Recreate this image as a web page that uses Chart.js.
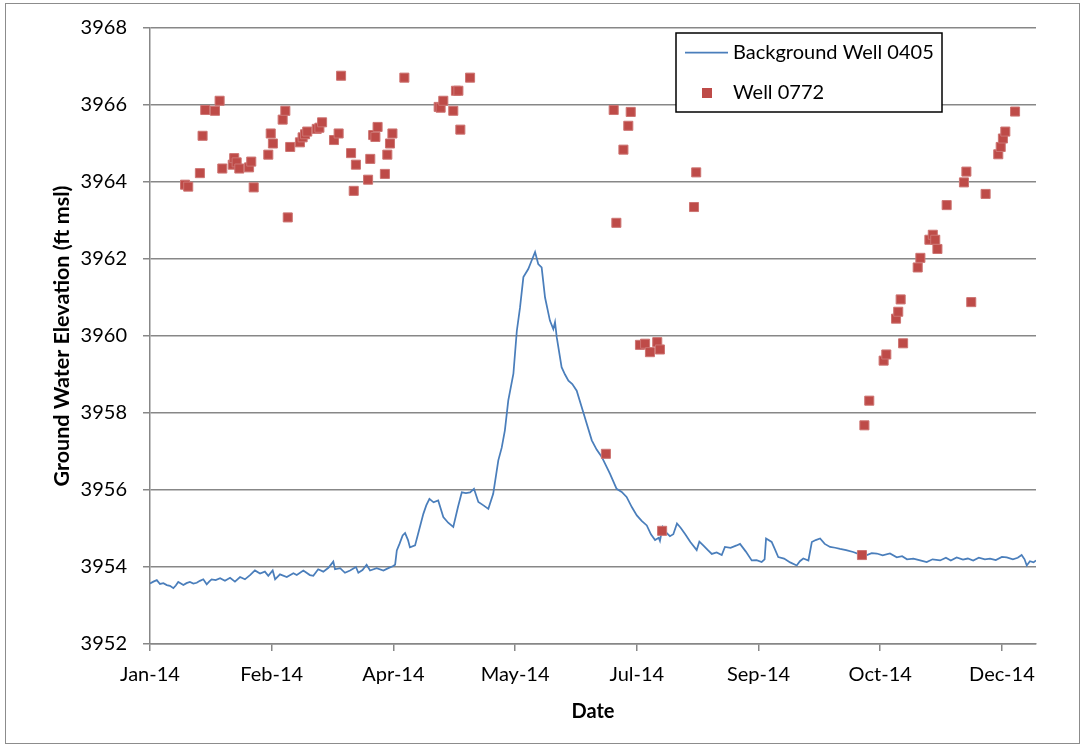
<!DOCTYPE html>
<html>
<head>
<meta charset="utf-8">
<title>Ground Water Elevation 2014</title>
<script src="https://cdn.jsdelivr.net/npm/chart.js@4.4.1/dist/chart.umd.min.js"></script>
<style>
  html, body { margin: 0; padding: 0; background: #fff; }
  #wrap { position: relative; width: 1089px; height: 746px; }
</style>
</head>
<body>
<div id="wrap"><canvas id="levelChart" width="1089" height="746"></canvas></div>
<script>
// Days are counted from 1 Jan 2014 (day 0)
const axisStartDay = 0;
const axisEndDay = 364;
const tickDays = [0, 50, 100, 150, 200, 250, 300, 350];
const tickLabels = ['Jan-14', 'Feb-14', 'Apr-14', 'May-14', 'Jul-14', 'Sep-14', 'Oct-14', 'Dec-14'];
const elevMin = 3952;
const elevMax = 3968;
const elevStep = 2;

// Background well 0405 - transducer record
const bgDays = [
  0, 1.4, 2.8, 4.1, 5.5, 6.9, 8.2, 9.6, 10.6, 11.6, 12.7, 13.7, 15.0, 16.4, 17.8, 19.2, 20.5, 21.9, 23.3, 24.3,
  25.3, 27.0, 28.8, 30.8, 32.9, 34.9, 37.0, 39.0, 41.1, 43.1, 45.2, 47.2, 48.6, 50.4, 51.4, 53.4, 56.2, 58.9, 60.3, 63.0,
  65.7, 67.1, 69.1, 71.2, 73.3, 75.3, 76.0, 78.1, 80.1, 82.2, 84.6, 85.6, 87.3, 89.0, 90.4, 93.1, 95.9, 97.9, 99.7, 100.7,
  101.4, 102.5, 103.8, 104.8, 106.0, 106.8, 108.9, 110.5, 112.3, 113.5, 114.8, 116.5, 118.4, 120.5, 122.5, 124.6, 126.5, 128.1, 129.8, 131.5,
  133.1, 134.9, 137.0, 139.0, 141.0, 143.1, 144.5, 145.8, 147.2, 149.3, 150.7, 152.0, 153.4, 155.4, 156.8, 158.2, 159.5, 160.9, 162.3, 164.3,
  165.7, 166.4, 167.1, 169.1, 170.5, 171.9, 173.5, 175.3, 178.0, 181.5, 183.5, 185.6, 189.0, 191.7, 193.8, 195.8, 198.0, 200.0, 202.0, 204.1,
  205.8, 207.5, 209.0, 209.5, 210.6, 212.0, 213.6, 215.0, 216.5, 218.0, 219.9, 222.0, 224.6, 225.7, 227.5, 229.0, 230.8, 232.8, 234.9, 236.2,
  238.5, 241.0, 242.4, 244.8, 247.2, 249.2, 251.3, 252.5, 253.1, 255.4, 256.8, 258.1, 260.5, 263.0, 265.7, 267.0, 268.4, 270.5, 271.9, 273.5,
  275.3, 277.2, 279.4, 281.5, 283.5, 286.0, 288.9, 291.5, 294.5, 296.5, 298.6, 301.0, 304.0, 306.8, 309.0, 311.0, 313.6, 316.0, 319.1, 321.5,
  324.6, 327.0, 329.0, 331.4, 334.0, 336.0, 338.2, 340.5, 343.0, 345.1, 347.5, 350.0, 352.0, 354.5, 356.5, 358.1, 359.3, 360.2, 361.5, 363.0,
  364.0
];
const bgLevels = [
  3953.57, 3953.62, 3953.66, 3953.56, 3953.58, 3953.53, 3953.51, 3953.45, 3953.52, 3953.61, 3953.57, 3953.53, 3953.58, 3953.61, 3953.57, 3953.59, 3953.64, 3953.68, 3953.55, 3953.62,
  3953.68, 3953.66, 3953.71, 3953.64, 3953.72, 3953.62, 3953.74, 3953.68, 3953.79, 3953.91, 3953.83, 3953.88, 3953.77, 3953.91, 3953.68, 3953.81, 3953.74, 3953.84, 3953.79, 3953.91,
  3953.79, 3953.77, 3953.94, 3953.88, 3953.98, 3954.14, 3953.94, 3953.97, 3953.85, 3953.91, 3954.00, 3953.85, 3953.92, 3954.06, 3953.91, 3953.97, 3953.91, 3953.97, 3954.02, 3954.06,
  3954.43, 3954.60, 3954.82, 3954.88, 3954.70, 3954.51, 3954.56, 3954.95, 3955.38, 3955.60, 3955.77, 3955.68, 3955.73, 3955.30, 3955.15, 3955.04, 3955.55, 3955.94, 3955.92, 3955.94,
  3956.03, 3955.69, 3955.60, 3955.51, 3955.90, 3956.77, 3957.10, 3957.55, 3958.33, 3959.02, 3960.13, 3960.73, 3961.53, 3961.74, 3961.96, 3962.18, 3961.87, 3961.78, 3961.00, 3960.40,
  3960.18, 3960.36, 3959.97, 3959.19, 3959.00, 3958.84, 3958.75, 3958.58, 3958.02, 3957.29, 3957.05, 3956.86, 3956.42, 3956.03, 3955.95, 3955.82, 3955.55, 3955.34, 3955.20, 3955.08,
  3954.85, 3954.70, 3954.76, 3954.68, 3955.04, 3954.90, 3954.80, 3954.85, 3955.13, 3955.02, 3954.85, 3954.65, 3954.44, 3954.66, 3954.55, 3954.45, 3954.34, 3954.38, 3954.31, 3954.52,
  3954.50, 3954.56, 3954.60, 3954.40, 3954.17, 3954.18, 3954.13, 3954.20, 3954.74, 3954.65, 3954.45, 3954.26, 3954.22, 3954.12, 3954.04, 3954.15, 3954.22, 3954.17, 3954.65, 3954.70,
  3954.74, 3954.60, 3954.52, 3954.50, 3954.47, 3954.44, 3954.39, 3954.33, 3954.31, 3954.36, 3954.35, 3954.30, 3954.35, 3954.25, 3954.28, 3954.20, 3954.22, 3954.18, 3954.13, 3954.20,
  3954.17, 3954.24, 3954.17, 3954.25, 3954.19, 3954.22, 3954.17, 3954.24, 3954.20, 3954.22, 3954.18, 3954.26, 3954.25, 3954.20, 3954.24, 3954.31, 3954.20, 3954.04, 3954.15, 3954.12,
  3954.17
];

// Well 0772 - manual measurements
const wellDays = [
  14.4, 15.7, 20.5, 21.6, 22.7, 26.7, 28.6, 29.7, 34.0, 34.6, 35.6, 36.7, 40.7, 41.6, 42.6, 48.6, 49.6, 50.5, 54.5, 55.6,
  56.6, 57.6, 61.6, 62.7, 63.7, 64.6, 68.5, 69.6, 70.7, 75.6, 77.5, 78.5, 82.6, 83.7, 84.6, 89.6, 90.5, 91.7, 92.6, 93.5,
  96.5, 97.5, 98.6, 99.6, 104.5, 118.6, 119.4, 120.5, 124.6, 125.7, 126.7, 127.5, 131.5, 187.3, 190.5, 191.6, 194.5, 196.5, 197.5, 201.3,
  203.4, 205.4, 208.4, 209.5, 210.4, 223.5, 224.4, 292.5, 293.5, 295.5, 301.4, 302.5, 306.5, 307.4, 308.4, 309.4, 315.4, 316.5, 320.2, 321.6,
  322.6, 323.5, 327.3, 334.4, 335.4, 337.4, 343.3, 348.5, 349.5, 350.4, 351.4, 355.4
];
const wellLevels = [
  3963.93, 3963.88, 3964.23, 3965.20, 3965.87, 3965.85, 3966.11, 3964.35, 3964.45, 3964.62, 3964.51, 3964.35, 3964.38, 3964.53, 3963.86, 3964.71, 3965.26, 3965.00, 3965.62, 3965.85,
  3963.08, 3964.91, 3965.03, 3965.16, 3965.24, 3965.31, 3965.38, 3965.41, 3965.55, 3965.09, 3965.26, 3966.76, 3964.75, 3963.77, 3964.45, 3964.06, 3964.60, 3965.22, 3965.17, 3965.43,
  3964.21, 3964.71, 3965.00, 3965.26, 3966.71, 3965.95, 3965.93, 3966.11, 3965.85, 3966.37, 3966.37, 3965.36, 3966.71, 3956.94, 3965.87, 3962.94, 3964.84, 3965.46, 3965.82, 3959.77,
  3959.80, 3959.58, 3959.84, 3959.65, 3954.94, 3963.35, 3964.25, 3954.31, 3957.68, 3958.32, 3959.36, 3959.52, 3960.45, 3960.63, 3960.95, 3959.81, 3961.78, 3962.03, 3962.50, 3962.63,
  3962.50, 3962.26, 3963.40, 3963.99, 3964.27, 3960.88, 3963.69, 3964.72, 3964.91, 3965.13, 3965.31, 3965.83
];

const toPoints = (xs, ys) => xs.map((x, i) => ({ x: x, y: ys[i] }));

// Outer frame plus the boxed legend in the upper right of the plot
const frameAndLegend = {
  id: 'frameAndLegend',
  afterDraw(chart) {
    const ctx = chart.ctx;
    const ds = chart.data.datasets;
    ctx.save();
    ctx.strokeStyle = '#8c8c8c';
    ctx.lineWidth = 1;
    ctx.strokeRect(5.5, 3.5, 1074, 740);

    const bx = 676, by = 33, bw = 266, bh = 79;
    ctx.fillStyle = '#fff';
    ctx.fillRect(bx, by, bw, bh);
    ctx.strokeStyle = '#000';
    ctx.lineWidth = 1.5;
    ctx.strokeRect(bx, by, bw, bh);

    ctx.strokeStyle = ds[0].borderColor;
    ctx.lineWidth = ds[0].borderWidth;
    ctx.beginPath();
    ctx.moveTo(bx + 9, by + 19.5);
    ctx.lineTo(bx + 52, by + 19.5);
    ctx.stroke();

    ctx.fillStyle = ds[1].backgroundColor;
    ctx.fillRect(bx + 26, by + 55, 10, 10);

    ctx.fillStyle = '#000';
    ctx.font = '20px Lato';
    ctx.textBaseline = 'middle';
    ctx.fillText(ds[0].label, bx + 57, by + 20);
    ctx.fillText(ds[1].label, bx + 57, by + 60);
    ctx.restore();
  }
};

const axisGray = '#878787';

new Chart(document.getElementById('levelChart'), {
  type: 'scatter',
  data: {
    datasets: [
      {
        label: 'Background Well 0405',
        data: toPoints(bgDays, bgLevels),
        showLine: true,
        borderColor: '#4a7ebb',
        backgroundColor: '#4a7ebb',
        borderWidth: 1.75,
        pointRadius: 0,
        tension: 0,
        order: 1
      },
      {
        label: 'Well 0772',
        data: toPoints(wellDays, wellLevels),
        showLine: false,
        pointStyle: 'rect',
        pointRadius: 6.4,
        backgroundColor: '#be4b48',
        borderColor: '#cd7472',
        borderWidth: 1,
        order: 0
      }
    ]
  },
  options: {
    responsive: false,
    animation: false,
    layout: { padding: { left: 0, top: 27, right: 53, bottom: 0 } },
    plugins: {
      legend: { display: false },
      tooltip: { enabled: false }
    },
    scales: {
      x: {
        type: 'linear',
        min: axisStartDay,
        max: axisEndDay,
        afterBuildTicks: (scale) => { scale.ticks = tickDays.map(v => ({ value: v })); },
        afterFit: (scale) => { scale.height = 102; },
        ticks: {
          autoSkip: false,
          maxRotation: 0,
          padding: 12,
          color: '#000',
          font: { family: 'Lato', size: 20 },
          callback: (value) => tickLabels[tickDays.indexOf(value)]
        },
        grid: { drawOnChartArea: false, color: axisGray, lineWidth: 1.5, tickLength: 7 },
        border: { color: axisGray, width: 1.5 },
        title: {
          display: true,
          text: 'Date',
          color: '#000',
          font: { family: 'Lato', size: 20, weight: 'bold' },
          padding: { top: 0, bottom: 22 }
        }
      },
      y: {
        min: elevMin,
        max: elevMax,
        afterFit: (scale) => { scale.width = 150; },
        ticks: {
          stepSize: elevStep,
          padding: 16,
          color: '#000',
          font: { family: 'Lato', size: 20 },
          callback: (value) => String(value)
        },
        grid: { color: axisGray, lineWidth: 1.5, tickLength: 7 },
        border: { color: axisGray, width: 1.5 },
        title: {
          display: true,
          text: 'Ground Water Elevation (ft msl)',
          color: '#000',
          font: { family: 'Lato', size: 21.5, weight: 'bold' },
          padding: { top: 49, bottom: 0 }
        }
      }
    }
  },
  plugins: [frameAndLegend]
});
</script>
</body>
</html>
